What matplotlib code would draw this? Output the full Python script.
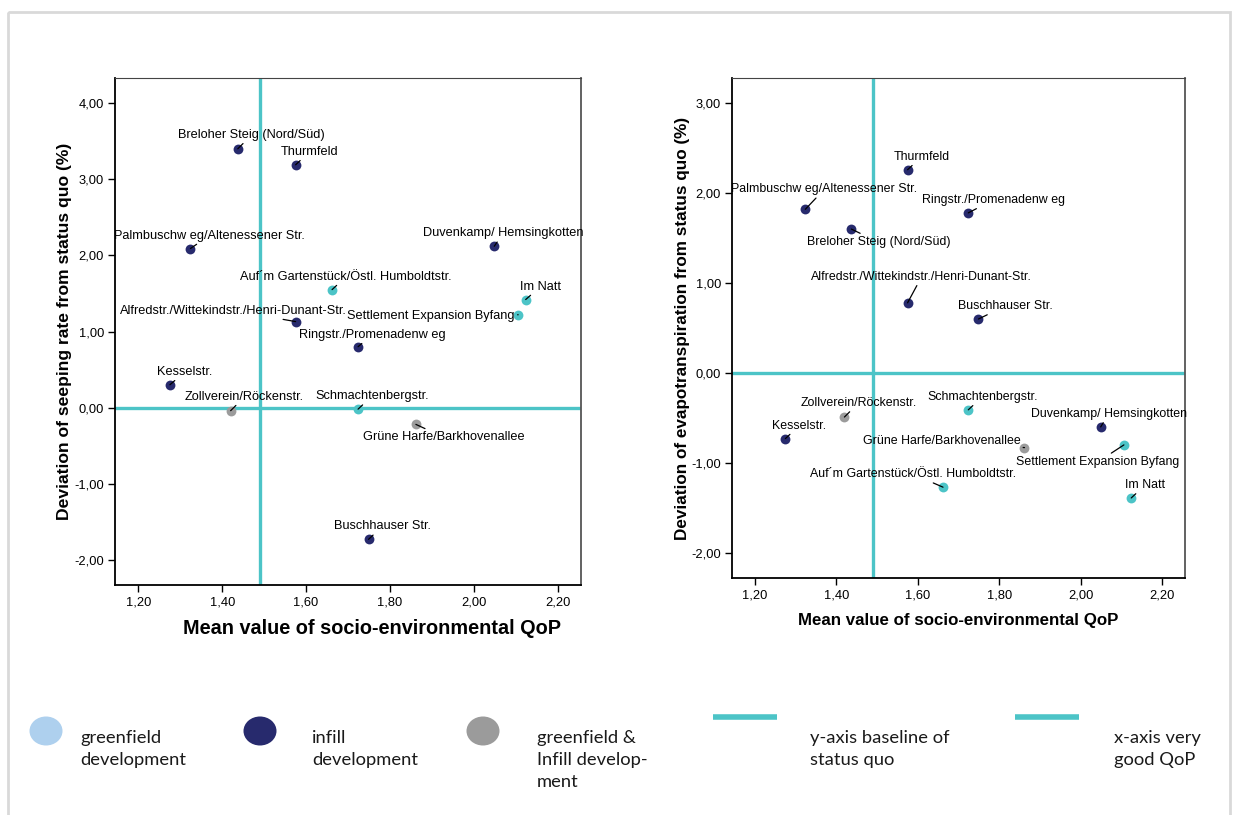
import numpy as np
import matplotlib
matplotlib.use("Agg")
import matplotlib.pyplot as plt
from matplotlib.patches import Ellipse, Rectangle
from matplotlib.ticker import FuncFormatter

# site data
sites = ["Breloher Steig (Nord/Süd)", "Thurmfeld", "Palmbuschw eg/Altenessener Str.",
         "Duvenkamp/ Hemsingkotten", "Auf´m Gartenstück/Östl. Humboldtstr.", "Im Natt",
         "Settlement Expansion Byfang", "Alfredstr./Wittekindstr./Henri-Dunant-Str.",
         "Ringstr./Promenadenw eg", "Kesselstr.", "Zollverein/Röckenstr.",
         "Schmachtenbergstr.", "Grüne Harfe/Barkhovenallee", "Buschhauser Str."]
qop = [1.437, 1.575, 1.324, 2.049, 1.662, 2.124, 2.106, 1.575, 1.724, 1.275, 1.420,
       1.724, 1.862, 1.749]
seeping = [3.40, 3.19, 2.09, 2.12, 1.55, 1.42, 1.22, 1.13, 0.80, 0.30, -0.04, -0.02,
           -0.22, -1.73]
evapo = [1.60, 2.26, 1.82, -0.60, -1.27, -1.39, -0.80, 0.78, 1.78, -0.73, -0.49, -0.41,
         -0.83, 0.60]
dev_type = ["infill", "infill", "infill", "infill", "greenfield", "greenfield", "greenfield",
            "infill", "infill", "infill", "mixed", "greenfield", "mixed", "infill"]
qop_good = 1.49
baseline = 0.0

colors = {"greenfield": "#4cc4c7", "infill": "#272a6d", "mixed": "#9b9b9b"}
cyan = "#4cc4c7"

# label offsets in pixels (dx right, dy down) relative to each point
off_left = [(14, -14), (14, -13), (19, -13), (9, -13), (14, -13), (15, -13), (-87, 1),
            (-62, -11), (14, -12), (15, -13), (14, -14), (14, -13), (28, 13), (14, -13)]
off_right = [(27, 13), (14, -13), (19, -20), (8, -13), (-30, -13), (14, -13), (-26, 17),
             (14, -26), (25, -13), (14, -13), (14, -14), (14, -13), (-83, -7), (27, -13)]

W, H = 1243, 815
fig = plt.figure(figsize=(W / 100, H / 100), dpi=100)

def fmt(v, pos):
    return ("%.2f" % v).replace(".", ",")

def scatter_panel(rect, yvals, offsets, ylim, yticks, ylabel, ylabel_x, xlabel_x, xlabel_y,
                  xl_size, yl_size, lab_size):
    ax = fig.add_axes(rect)
    ax.set_xlim(1.144, 2.256)
    ax.set_ylim(*ylim)
    ax.axvline(qop_good, color=cyan, lw=2.4, zorder=1)
    ax.axhline(baseline, color=cyan, lw=2.4, zorder=1)
    for i in range(len(sites)):
        ax.scatter(qop[i], yvals[i], s=50, color=colors[dev_type[i]], zorder=3, linewidths=0)
        dx, dy = offsets[i]
        ax.annotate(sites[i], (qop[i], yvals[i]), xytext=(dx, -dy), textcoords="offset pixels",
                    ha="center", va="center", fontsize=lab_size, family="Liberation Sans",
                    arrowprops=dict(arrowstyle="-", color="black", lw=0.9, shrinkA=0, shrinkB=0),
                    zorder=4)
    ax.set_xticks([1.2, 1.4, 1.6, 1.8, 2.0, 2.2])
    ax.set_yticks(yticks)
    ax.xaxis.set_major_formatter(FuncFormatter(fmt))
    ax.yaxis.set_major_formatter(FuncFormatter(fmt))
    ax.tick_params(direction="out", length=5, width=1, labelsize=9.3, pad=3)
    for lab in ax.get_xticklabels() + ax.get_yticklabels():
        lab.set_family("Liberation Sans")
    ax.spines["left"].set_linewidth(1.3)
    ax.spines["bottom"].set_linewidth(1.3)
    ax.spines["top"].set_color("#444444")
    ax.spines["right"].set_color("#555555")
    ax.spines["right"].set_linewidth(1.3)
    pos = ax.get_position()
    fig.text(xlabel_x / W, 1 - xlabel_y / H, "Mean value of socio-environmental QoP",
             ha="center", va="center", fontsize=xl_size, fontweight="bold",
             family="Liberation Sans")
    fig.text(ylabel_x / W, (pos.y0 + pos.y1) / 2, ylabel, rotation=90, ha="center",
             va="center", fontsize=yl_size, fontweight="bold", family="Liberation Sans")
    return ax

scatter_panel([115 / W, 1 - 585 / H, 466 / W, 507 / H], seeping, off_left, (-2.33, 4.33),
              [-2, -1, 0, 1, 2, 3, 4], "Deviation of seeping rate from status quo (%)",
              65, 372, 629, 14.3, 12.6, 9.2)
scatter_panel([732 / W, 1 - 578 / H, 453 / W, 500 / H], evapo, off_right, (-2.28, 3.28),
              [-2, -1, 0, 1, 2, 3], "Deviation of evapotranspiration from status quo (%)",
              683, 958, 620, 12.2, 12.3, 8.9)

# legend and frame drawn in pixel coordinates
lg = fig.add_axes([0, 0, 1, 1], zorder=-1)
lg.set_xlim(0, W)
lg.set_ylim(H, 0)
lg.axis("off")
lg.add_patch(Rectangle((8, 12), 1222, 830, fill=False, ec="#d9d9d9", lw=2))

legend_items = [
    ("ellipse", "#aed0ee", 46, 80, "greenfield\ndevelopment"),
    ("ellipse", "#272a6d", 260, 312, "infill\ndevelopment"),
    ("ellipse", "#9b9b9b", 483, 537, "greenfield &\nInfill develop-\nment"),
    ("line", cyan, 745, 810, "y-axis baseline of\nstatus quo"),
    ("line", cyan, 1047, 1114, "x-axis very\ngood QoP"),
]
for kind, col, mx, tx, txt in legend_items:
    if kind == "ellipse":
        lg.add_patch(Ellipse((mx, 731), 33, 29, color=col, lw=0))
    else:
        lg.plot([mx - 32, mx + 32], [717, 717], color=col, lw=4, solid_capstyle="butt")
    lg.text(tx, 730, txt, ha="left", va="top", fontsize=13.2, family="Lato",
            linespacing=1.45, color="#1a1a1a")

fig.savefig("out.png", dpi=100)
